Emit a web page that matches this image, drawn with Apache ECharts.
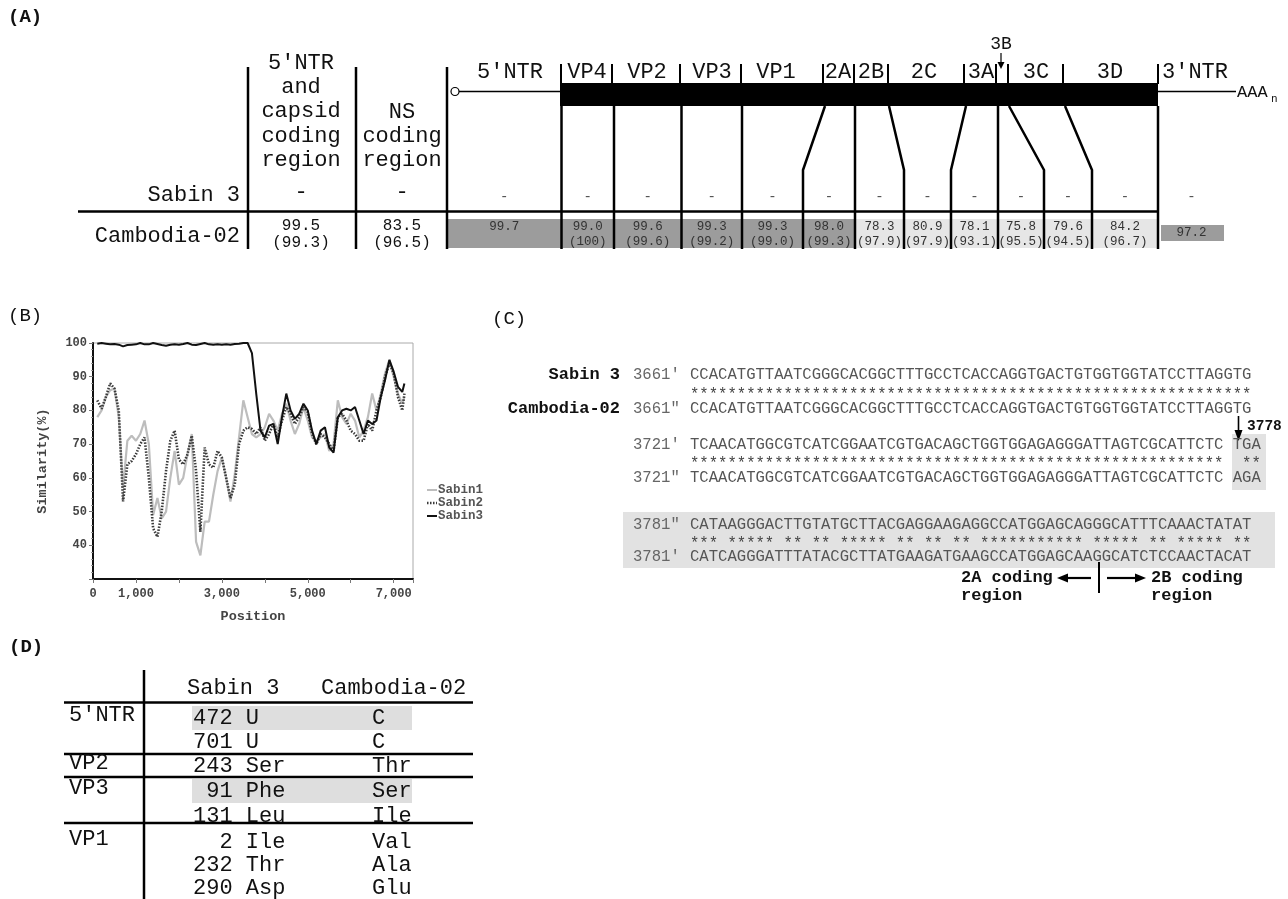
<!DOCTYPE html>
<html>
<head>
<meta charset="utf-8">
<script src="https://cdn.jsdelivr.net/npm/echarts@6/dist/echarts.min.js"></script>
<style>
  html, body { margin: 0; background: #fff; }
  #fig { width: 1288px; height: 899px; }
</style>
</head>
<body>
<div id="fig"></div>
<script>
// ---- panel B data: similarity plot (window position, % similarity) ----
const positions = [100,200,300,400,500,600,700,800,900,1000,1100,1200,1300,1400,1500,1600,1700,1800,1900,2000,
  2100,2200,2300,2400,2500,2600,2700,2800,2900,3000,3100,3200,3300,3400,3500,3600,3700,3800,3900,4000,
  4100,4200,4300,4400,4500,4600,4700,4800,4900,5000,5100,5200,5300,5400,5500,5600,5700,5800,5900,6000,
  6100,6200,6300,6400,6500,6600,6700,6800,6900,7000,7100,7200,7250];
const sabin1 = [78,80,84,86,86.5,78,57,71,72.5,71,73,77,70,49,54,48,50,60,68,58,
  60,67,73,41,37,47,47,55,62,66,60,53,61,72,83,78,73,72,73,75,
  79,77,74,79,82,77,73,76,81,77,72,71,72,73,68,70,83,78,76,79,
  77,72,74,78,85,80,85,91,95,90,85,82,84];
const sabin2 = [83,80.5,84,88,86.5,80,53,64,65,67,70,72,60,45,42.5,50,62,71,74,65.5,
  64,67,72.5,62,44,69,64,63,68,66,60,54,58,70,74,75,74.5,73,75,71,
  73,76,72,77,81,79,76,78,81,79.5,73,70,73,72,70,68,78,79,77,74,
  73,71,71,76,74,80,84,90,94,91,84,80,85];
const sabin3 = [99.8,100,99.8,99.6,99.7,99.5,99.0,99.4,99.5,99.6,100,99.6,99.6,100,99.7,99.4,99.2,99.5,99.6,99.5,
  99.7,100,99.5,99.4,99.7,100,99.6,99.5,99.6,99.5,99.6,99.5,99.7,99.8,100,100,97,85,74,72,
  75.5,76,70,78,85,80,77.5,79,82,80,74,70,74,75,69,67.5,78,80,80.5,80,
  81,77,73,77,76,77,84,89,95,91.5,87,85.5,88];
const seriesNames = ['Sabin1', 'Sabin2', 'Sabin3'];
const xLabelTicks = [0, 1000, 3000, 5000, 7000];

// ---- panel A data ----
const genomeLabels = ["5'NTR", 'VP4', 'VP2', 'VP3', 'VP1', '2A', '2B', '2C', '3A', '3C', '3D', "3'NTR"];
const ntIdentity = ['99.7','99.0','99.6','99.3','99.3','98.0','78.3','80.9','78.1','75.8','79.6','84.2','97.2'];
const aaIdentity = [null,'(100)','(99.6)','(99.2)','(99.0)','(99.3)','(97.9)','(97.9)','(93.1)','(95.5)','(94.5)','(96.7)',null];
const summaryHeaders = [["5'NTR", 'and', 'capsid', 'coding', 'region'], ['NS', 'coding', 'region']];
const summaryNt = ['99.5', '83.5'];
const summaryAa = ['(99.3)', '(96.5)'];

// ---- panel C data: alignment around the 2A/2B junction ----
const seqLabels = ["3661'", '3661"', "3721'", '3721"', '3781"', "3781'"];
const seqRows = [
  'CCACATGTTAATCGGGCACGGCTTTGCCTCACCAGGTGACTGTGGTGGTATCCTTAGGTG',
  'CCACATGTTAATCGGGCACGGCTTTGCCTCACCAGGTGACTGTGGTGGTATCCTTAGGTG',
  'TCAACATGGCGTCATCGGAATCGTGACAGCTGGTGGAGAGGGATTAGTCGCATTCTC TGA',
  'TCAACATGGCGTCATCGGAATCGTGACAGCTGGTGGAGAGGGATTAGTCGCATTCTC AGA',
  'CATAAGGGACTTGTATGCTTACGAGGAAGAGGCCATGGAGCAGGGCATTTCAAACTATAT',
  'CATCAGGGATTTATACGCTTATGAAGATGAAGCCATGGAGCAAGGCATCTCCAACTACAT'
];
const matchRows = [
  '************************************************************',
  '*********************************************************  **',
  '*** ***** ** ** ***** ** ** ** *********** ***** ** ***** **'
];

// ---- panel D data: nucleotide / amino-acid differences ----
const mutRegions = ["5'NTR", 'VP2', 'VP3', 'VP1'];
const mutRegionRow = [0, 2, 3, 5];
const sabinResidues = ['472 U', '701 U', '243 Ser', ' 91 Phe', '131 Leu', '  2 Ile', '232 Thr', '290 Asp'];
const cambodiaResidues = ['C', 'C', 'Thr', 'Ser', 'Ile', 'Val', 'Ala', 'Glu'];
const highlightedRows = [0, 3];

// ---- drawing helpers ----
const MONO = '"Liberation Mono", "DejaVu Sans Mono", monospace';
function txt(x, y, text, size, o = {}) {
  return {
    type: 'text', x, y, silent: true, z: 20,
    style: {
      text, font: (o.bold ? 'bold ' : '') + size + 'px ' + MONO,
      fill: o.color || '#111', align: o.align || 'center', verticalAlign: o.valign || 'middle'
    }
  };
}
function ln(x1, y1, x2, y2, w = 2.5, color = '#000', dash = null) {
  return { type: 'line', silent: true, z: 10, shape: { x1, y1, x2, y2 }, style: { stroke: color, lineWidth: w, lineDash: dash } };
}
function poly(points, w = 2.5) {
  return { type: 'polyline', silent: true, z: 10, shape: { points }, style: { stroke: '#000', lineWidth: w, fill: null } };
}
function box(x, y, w, h, fill) {
  return { type: 'rect', silent: true, z: 1, shape: { x, y, width: w, height: h }, style: { fill } };
}
function head(points) {
  return { type: 'polygon', silent: true, z: 11, shape: { points }, style: { fill: '#000' } };
}

const g = [];

// ---------- panel A ----------
g.push(txt(8, 17, '(A)', 19, { bold: true, align: 'left' }));
summaryHeaders[0].forEach((t, i) => g.push(txt(301, 63 + i * 24.3, t, 22)));
summaryHeaders[1].forEach((t, i) => g.push(txt(402, 112 + i * 24.3, t, 22)));
g.push(txt(240, 195, 'Sabin 3', 22, { align: 'right' }));
g.push(txt(240, 236, 'Cambodia-02', 22, { align: 'right' }));
[301, 402].forEach((cx, i) => {
  g.push(txt(cx, 192, '-', 22));
  g.push(txt(cx, 226, summaryNt[i], 16));
  g.push(txt(cx, 243, summaryAa[i], 16));
});
[248, 356, 447].forEach(x => g.push(ln(x, 67, x, 249)));
g.push(ln(78, 211.5, 1158, 211.5));

// genome map
const labelX = [510, 587, 647, 712, 776, 838, 871, 924, 981, 1036, 1110, 1195];
genomeLabels.forEach((t, i) => g.push(txt(labelX[i], 72, t, 22)));
[561, 612, 680, 741, 823, 854, 888, 964, 996, 1008, 1063, 1158].forEach(x => g.push(ln(x, 64, x, 84, 2)));
g.push(txt(1001, 44, '3B', 18));
g.push(ln(1001, 53, 1001, 63, 1.2));
g.push(head([[997.5, 62], [1004.5, 62], [1001, 69]]));
g.push({ type: 'rect', silent: true, z: 9, shape: { x: 560, y: 83, width: 598, height: 23 }, style: { fill: '#000' } });
g.push(ln(459, 91.5, 560, 91.5, 1.3));
g.push({ type: 'circle', silent: true, z: 11, shape: { cx: 455, cy: 91.5, r: 4 }, style: { fill: '#fff', stroke: '#000', lineWidth: 1.2 } });
g.push(ln(1158, 91.5, 1236, 91.5, 1.3));
g.push(txt(1237, 92, 'AAA', 17, { align: 'left' }));
g.push(txt(1271, 99, 'n', 11, { align: 'left' }));

const colTop = [561.5, 614, 681.5, 742, 825, 855, 889, 966, 998, 1009, 1065, 1158];
const colBottom = [561.5, 614, 681.5, 742, 803, 855, 904, 951, 998, 1044, 1092, 1158];
colTop.forEach((xt, i) => {
  const xb = colBottom[i];
  if (xt === xb) g.push(ln(xt, 106, xt, 249));
  else g.push(poly([[xt, 106], [xb, 170], [xb, 249]]));
});
const cellEdges = [447].concat(colBottom, [1225]);
g.push(box(447, 219, 855 - 447, 29, '#9c9c9c'));
g.push(box(855, 219, 1158 - 855, 29, '#e6e6e6'));
g.push(box(1161, 225, 63, 16, '#9c9c9c'));
ntIdentity.forEach((v, i) => {
  const cx = (cellEdges[i] + cellEdges[i + 1]) / 2;
  g.push(txt(cx, 197, '-', 14, { color: '#555' }));
  if (aaIdentity[i]) {
    g.push(txt(cx, 227, v, 12.5, { color: '#333' }));
    g.push(txt(cx, 242, aaIdentity[i], 12.5, { color: '#333' }));
  } else {
    g.push(txt(cx, i === 0 ? 227 : 233, v, 12.5, { color: '#333' }));
  }
});

// ---------- panel B label + legend ----------
g.push(txt(8, 316, '(B)', 19, { align: 'left' }));
const legendStyles = [
  { color: '#bdbdbd', w: 2, dash: null },
  { color: '#3a3a3a', w: 2.6, dash: [1.5, 1.5] },
  { color: '#111', w: 2, dash: null }
];
seriesNames.forEach((name, i) => {
  const y = 490 + i * 13;
  const s = legendStyles[i];
  g.push(ln(427, y, 437, y, s.w, s.color, s.dash));
  g.push(txt(438, y, name, 12.5, { bold: true, align: 'left', color: '#555' }));
});

// ---------- panel C ----------
const seqX = 690, seqFont = 15.6;
g.push(txt(492, 319, '(C)', 19, { align: 'left' }));
const rowY = [375, 409, 445, 478, 525, 557];
const starY = [392, 461, 541];
g.push(box(1232, 434, 34, 56, '#e2e2e2'));
g.push(box(623, 512, 652, 56, '#e2e2e2'));
g.push(txt(620, rowY[0], 'Sabin 3', 17, { bold: true, align: 'right' }));
g.push(txt(620, rowY[1], 'Cambodia-02', 17, { bold: true, align: 'right' }));
seqRows.forEach((s, i) => {
  g.push(txt(633, rowY[i], seqLabels[i], seqFont, { align: 'left', color: '#666' }));
  g.push(txt(seqX, rowY[i], s, seqFont, { align: 'left', color: '#555' }));
});
matchRows.forEach((s, i) => g.push(txt(seqX, starY[i] + 3, s, seqFont, { align: 'left', color: '#444' })));
g.push(txt(1247, 426, '3778', 14.5, { bold: true, align: 'left' }));
g.push(ln(1238.5, 416, 1238.5, 432, 1.6));
g.push(head([[1234.5, 430], [1242.5, 430], [1238.5, 441]]));
g.push(ln(1099, 562, 1099, 593, 2));
g.push(txt(961, 578, '2A coding', 17, { bold: true, align: 'left' }));
g.push(txt(961, 596, 'region', 17, { bold: true, align: 'left' }));
g.push(ln(1066, 578, 1091, 578, 2.2));
g.push(head([[1057, 578], [1068, 573.5], [1068, 582.5]]));
g.push(ln(1107, 578, 1136, 578, 2.2));
g.push(head([[1146, 578], [1135, 573.5], [1135, 582.5]]));
g.push(txt(1151, 578, '2B coding', 17, { bold: true, align: 'left' }));
g.push(txt(1151, 596, 'region', 17, { bold: true, align: 'left' }));

// ---------- panel D ----------
g.push(txt(9, 647, '(D)', 19, { bold: true, align: 'left' }));
g.push(ln(144, 670, 144, 899, 2.5));
g.push(txt(187, 688, 'Sabin 3', 22, { align: 'left' }));
g.push(txt(321, 688, 'Cambodia-02', 22, { align: 'left' }));
[702.5, 754, 777, 823].forEach(y => g.push(ln(64, y, 473, y, 2.5)));
const dRowY = [718, 742, 766, 791, 816, 842, 865, 888];
highlightedRows.forEach(r => g.push(box(192, dRowY[r] - 12, 220, 24, '#dedede')));
mutRegions.forEach((t, i) => g.push(txt(69, dRowY[mutRegionRow[i]] - 3, t, 22, { align: 'left' })));
sabinResidues.forEach((t, i) => g.push(txt(193, dRowY[i], t, 22, { align: 'left' })));
cambodiaResidues.forEach((t, i) => g.push(txt(372, dRowY[i], t, 22, { align: 'left' })));

// ---------- chart ----------
const chart = echarts.init(document.getElementById('fig'), null, { renderer: 'canvas' });
const axisFont = { fontFamily: MONO, fontWeight: 'bold', fontSize: 12, color: '#444' };
const mk = arr => positions.map((p, i) => [p, arr[i]]);

chart.setOption({
  animation: false,
  backgroundColor: '#fff',
  grid: { left: 93, top: 343, width: 320, height: 236, show: true, borderColor: '#aaa', borderWidth: 1, backgroundColor: 'transparent' },
  xAxis: {
    type: 'value', min: 0, max: 7450, interval: 1000,
    name: 'Position', nameLocation: 'middle', nameGap: 31,
    nameTextStyle: { fontFamily: MONO, fontWeight: 'bold', fontSize: 13.5, color: '#444' },
    axisLine: { show: true, lineStyle: { color: '#111', width: 2 } },
    axisTick: { show: true, length: 4, lineStyle: { color: '#777' } },
    axisLabel: Object.assign({ margin: 9, formatter: v => xLabelTicks.includes(v) ? v.toLocaleString('en-US') : '' }, axisFont),
    splitLine: { show: false }
  },
  yAxis: {
    type: 'value', min: 30, max: 100, interval: 10,
    name: 'Similarity(%)', nameLocation: 'middle', nameGap: 43, nameRotate: 90,
    nameTextStyle: { fontFamily: MONO, fontWeight: 'bold', fontSize: 13.5, color: '#444' },
    axisLine: { show: true, lineStyle: { color: '#111', width: 2 } },
    axisTick: { show: true, length: 4, lineStyle: { color: '#777' } },
    minorTick: { show: true, splitNumber: 5, length: 2, lineStyle: { color: '#999' } },
    axisLabel: Object.assign({ margin: 6, formatter: v => v === 30 ? '' : String(v) }, axisFont),
    splitLine: { show: false }
  },
  series: [
    { name: seriesNames[0], type: 'line', data: mk(sabin1), symbol: 'none', z: 2,
      lineStyle: { color: '#bdbdbd', width: 2.2 } },
    { name: seriesNames[1], type: 'line', data: mk(sabin2), symbol: 'none', z: 3,
      lineStyle: { color: '#3a3a3a', width: 2.6, type: [1.5, 1.5] } },
    { name: seriesNames[2], type: 'line', data: mk(sabin3), symbol: 'none', z: 4,
      lineStyle: { color: '#111', width: 2 } }
  ],
  graphic: { elements: g }
});
</script>
</body>
</html>
